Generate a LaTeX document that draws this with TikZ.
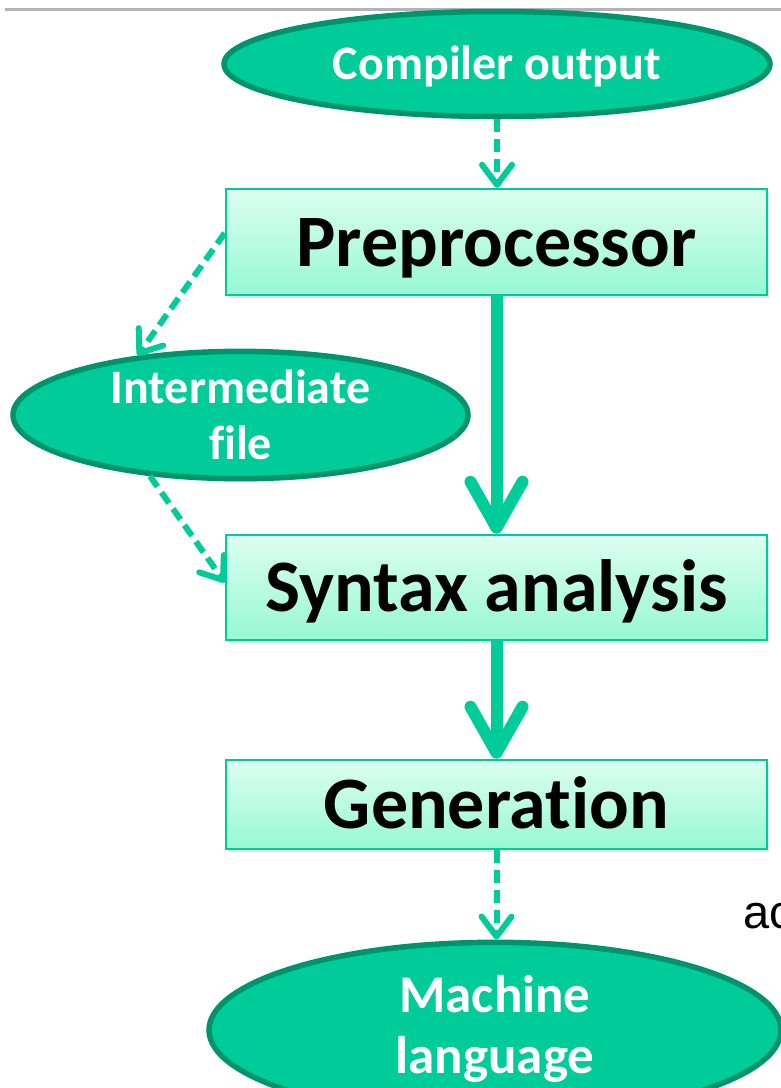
\documentclass[tikz,border=0pt]{standalone}
\usepackage{fontspec}
\setmainfont[Ligatures=CommonOff]{Carlito}
\newfontfamily\arialfont{Liberation Sans}
\usetikzlibrary{shapes.geometric,arrows.meta,shadows}

\definecolor{flowgreen}{HTML}{00CC99}
\definecolor{ringgreen}{HTML}{00936C}
\definecolor{mintTop}{HTML}{DCFEF1}
\definecolor{mintBot}{HTML}{97F8D5}
\definecolor{ruleGray}{HTML}{B3B3B3}

\tikzset{
  terminal/.style={ellipse, inner sep=0pt, fill=flowgreen, draw=ringgreen,
    line width=5.5pt, text=white, font=\bfseries\fontsize{48}{56}\selectfont,
    align=center,
    drop shadow={shadow xshift=1pt, shadow yshift=-3pt, opacity=0.18}},
  stage/.style={rectangle, inner sep=0pt, draw=flowgreen, line width=2.5pt,
    top color=mintTop, bottom color=mintBot, text=black,
    minimum width=541pt, text height=48pt, text depth=0pt,
    font=\bfseries\fontsize{74}{88}\selectfont,
    drop shadow={shadow xshift=2pt, shadow yshift=-3pt, opacity=0.22}},
  flow/.style={draw=flowgreen, line width=12pt,
    -{Straight Barb[length=46pt, width=52pt, line cap=round, line join=round]}},
  aux/.style={draw=flowgreen, line width=6pt, dash pattern=on 13pt off 7pt,
    -{Straight Barb[length=20pt, width=30pt, line cap=round, line join=round]}}
}

\begin{document}
\begin{tikzpicture}[x=1pt, y=-1pt]
  \useasboundingbox (0,0) rectangle (781,1088);

  % header rule
  \draw[ruleGray, line width=3pt] (5,9.5) -- (781,9.5);

  % nodes
  \node[terminal, minimum width=546pt, minimum height=105pt,
        text height=31pt, text depth=0pt] (comp) at (497,64) {Compiler output};
  \node[stage, minimum height=106pt] (pre) at (496.5,242) {Preprocessor};
  \node[terminal, minimum width=455pt, minimum height=126pt] (inter) at (240.5,415) {Intermediate\\file};
  \node[stage, minimum height=105pt] (syn) at (496.5,587.5) {Syntax analysis};
  \node[stage, minimum height=89pt] (gen) at (496.5,804.5) {Generation};
  \node[terminal, minimum width=572pt, minimum height=126pt,
        font=\bfseries\fontsize{53}{63}\selectfont] (mach) at (495,1030)
        {\raisebox{-10pt}{\begin{tabular}{@{}c@{}}Machine\\[-2pt]language\end{tabular}}};

  \node[anchor=base west, inner sep=0pt, font=\arialfont\fontsize{47}{56}\selectfont] (ac) at (743,928) {ac};

  % connectors
  \draw[aux] (comp.south) -- (comp.south |- pre.north);
  \draw[aux] ([yshift=9pt]pre.west) -- (inter.150);
  \draw[aux] (inter.214) -- ([yshift=5pt]syn.west);
  \draw[flow] (pre.south) -- (syn.north);
  \draw[flow] (syn.south) -- (gen.north);
  \draw[aux] (gen.south) -- (gen.south |- mach.north);
\end{tikzpicture}
\end{document}
